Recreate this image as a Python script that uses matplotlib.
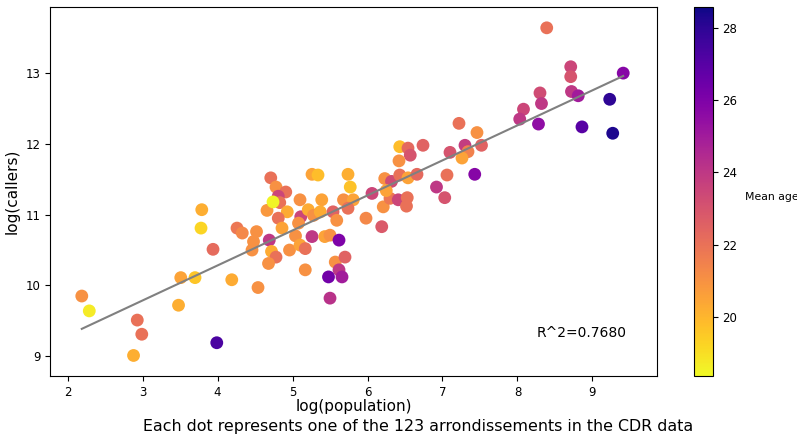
import matplotlib
matplotlib.use("Agg")
import matplotlib.pyplot as plt
import numpy as np

# --- data ---
log_population = [
    2.19, 2.29, 2.93, 2.99, 2.88, 3.48, 3.51, 3.70, 3.79, 3.78, 3.94, 3.99, 4.19, 4.26, 4.33,
    4.71, 4.78, 4.91, 4.81, 4.83, 4.66, 4.93, 4.81, 4.86, 5.10, 5.11, 5.08, 4.52, 4.48,
    4.46, 4.69, 4.72, 4.78, 4.68, 4.96, 5.04, 5.10, 5.17, 5.17, 4.54, 5.50,
    5.26, 5.34, 5.74, 5.77, 5.39, 5.21, 5.28, 5.37, 5.54, 5.68, 5.81, 5.74, 5.59, 5.98, 6.06,
    6.23, 6.32, 6.21, 6.30, 6.41, 6.19, 6.43, 5.26, 5.43, 5.50, 5.62, 5.57, 5.70, 5.62, 5.48, 5.66,
    7.22, 7.46, 6.43, 6.54, 6.57, 6.42, 6.74, 7.10, 7.30, 7.34, 7.26, 7.52, 7.43, 7.06, 6.92,
    7.03, 6.54, 6.66, 6.25, 6.53, 6.52,
    8.08, 8.03, 8.39, 8.71, 8.71, 8.30, 8.32, 8.72, 8.81, 9.41, 9.23, 8.28, 8.86, 9.27,
    4.74,
]
log_callers = [
    9.85, 9.64, 9.51, 9.31, 9.01, 9.72, 10.11, 10.11, 11.07, 10.81, 10.51, 9.19, 10.08, 10.81, 10.74,
    11.52, 11.39, 11.32, 11.26, 11.17, 11.06, 11.04, 10.95, 10.81, 11.21, 10.97, 10.88, 10.76, 10.62,
    10.50, 10.64, 10.48, 10.40, 10.31, 10.50, 10.70, 10.57, 10.52, 10.22, 9.97, 9.82,
    11.57, 11.56, 11.57, 11.39, 11.21, 11.07, 10.99, 11.04, 11.04, 11.21, 11.21, 11.09, 10.92, 10.95, 11.30,
    11.51, 11.47, 11.11, 11.23, 11.21, 10.83, 11.56, 10.69, 10.69, 10.71, 10.64, 10.33, 10.40, 10.22, 10.12, 10.12,
    12.29, 12.16, 11.96, 11.94, 11.84, 11.76, 11.98, 11.88, 11.98, 11.89, 11.80, 11.98, 11.57, 11.56, 11.39,
    11.24, 11.52, 11.57, 11.34, 11.24, 11.12,
    12.49, 12.35, 13.64, 13.09, 12.95, 12.72, 12.57, 12.74, 12.68, 13.00, 12.63, 12.28, 12.24, 12.15,
    11.18,
]
mean_age = [
    21.0, 18.7, 22.0, 22.0, 20.2, 20.2, 20.5, 19.6, 20.2, 19.2, 22.2, 27.3, 20.3, 21.8, 21.3,
    22.0, 21.0, 22.0, 23.5, 22.0, 20.8, 20.3, 22.0, 20.5, 21.0, 23.5, 21.0, 21.0, 21.0,
    21.0, 24.0, 20.3, 22.0, 21.0, 21.0, 21.0, 20.5, 22.0, 21.0, 21.0, 24.2,
    20.5, 19.8, 20.2, 19.7, 20.5, 20.3, 21.0, 20.3, 22.5, 21.0, 20.5, 22.0, 21.0, 21.3, 23.5,
    21.0, 23.3, 21.0, 21.8, 23.5, 22.8, 22.0, 24.0, 20.5, 21.0, 26.0, 21.0, 22.5, 24.0, 26.3, 25.0,
    22.0, 21.0, 19.8, 22.3, 23.0, 21.0, 22.5, 23.0, 23.8, 21.5, 20.5, 22.5, 25.8, 22.0, 24.0,
    23.0, 20.5, 22.3, 20.5, 22.0, 22.0,
    23.5, 24.0, 22.0, 23.5, 23.0, 23.3, 24.0, 24.0, 25.0, 25.8, 28.0, 25.5, 27.0, 28.3,
    18.5,
]

# regression line as printed on the chart
slope = 0.495
intercept = 8.302
r_squared = 0.7680

fig = plt.figure(figsize=(7.97, 4.37), dpi=100)
ax = fig.add_axes([0.0631, 0.1396, 0.7612, 0.8437])
cax = fig.add_axes([0.8711, 0.1396, 0.0231, 0.8437])

sc = ax.scatter(log_population, log_callers, c=mean_age, cmap='plasma_r',
                s=85, linewidths=0, vmin=18.36, vmax=28.57)

x_line = np.array([min(log_population), max(log_population)])
ax.plot(x_line, intercept + slope * x_line, color='grey', linewidth=1.5)

ax.text(8.26, 9.33, 'R^2=%.4f' % r_squared, va='center', fontsize=10)

ax.set_xlim(1.77, 9.86)
ax.set_ylim(8.72, 13.93)
ax.set_xticks(range(2, 10))
ax.set_yticks(range(9, 14))
ax.tick_params(labelsize=8.5)
ax.set_xlabel('log(population)', fontsize=11, labelpad=0.5)
ax.set_ylabel('log(callers)', fontsize=11)

cbar = fig.colorbar(sc, cax=cax)
cbar.set_ticks([20, 22, 24, 26, 28])
cbar.ax.tick_params(labelsize=8.5)
cbar.set_label('Mean age', rotation=0, ha='left', va='center', fontsize=7.8)
cbar.ax.yaxis.set_label_coords(2.75, 0.485)

fig.text(418 / 797, 1 - 426 / 437, 'Each dot represents one of the 123 arrondissements in the CDR data',
         ha='center', va='center', fontsize=11.4)

fig.savefig('out.png', dpi=100)
